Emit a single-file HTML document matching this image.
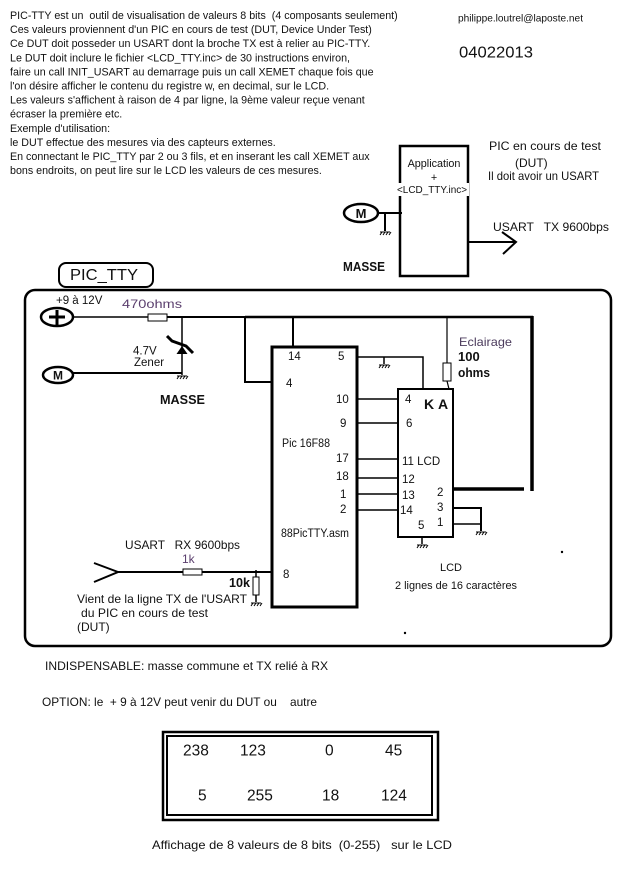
<!DOCTYPE html>
<html><head><meta charset="utf-8"><style>
html,body{margin:0;padding:0;background:#fff;}
svg{display:block;}
text{font-family:"Liberation Sans",Arial,sans-serif;fill:#111;white-space:pre;}
.b{font-weight:bold;}
</style></head><body>
<svg width="628" height="871" viewBox="0 0 628 871" xmlns="http://www.w3.org/2000/svg">
<defs>
<g id="gnd"><path d="M-5 0h10 M-5 3l2-3 M-2 3l2-3 M1 3l2-3 M4 3l2-3" stroke="#000" stroke-width="1" fill="none"/></g>
</defs>
<rect width="628" height="871" fill="#fff"/>

<!-- top text -->
<g font-size="10.7">
<text x="10" y="19">PIC-TTY est un  outil de visualisation de valeurs 8 bits  (4 composants seulement)</text>
<text x="10" y="33.1">Ces valeurs proviennent d'un PIC en cours de test (DUT, Device Under Test)</text>
<text x="10" y="47.2">Ce DUT doit posseder un USART dont la broche TX est à relier au PIC-TTY.</text>
<text x="10" y="61.3">Le DUT doit inclure le fichier &lt;LCD_TTY.inc&gt; de 30 instructions environ,</text>
<text x="10" y="75.4">faire un call INIT_USART au demarrage puis un call XEMET chaque fois que</text>
<text x="10" y="89.5">l'on désire afficher le contenu du registre w, en decimal, sur le LCD.</text>
<text x="10" y="103.6">Les valeurs s'affichent à raison de 4 par ligne, la 9ème valeur reçue venant</text>
<text x="10" y="117.7">écraser la première etc.</text>
<text x="10" y="131.8">Exemple d'utilisation:</text>
<text x="10" y="145.9">le DUT effectue des mesures via des capteurs externes.</text>
<text x="10" y="160">En connectant le PIC_TTY par 2 ou 3 fils, et en inserant les call XEMET aux</text>
<text x="10" y="174.1">bons endroits, on peut lire sur le LCD les valeurs de ces mesures.</text>
</g>

<!-- top right -->
<text x="458" y="21.5" font-size="10.3" textLength="125" lengthAdjust="spacingAndGlyphs">philippe.loutrel@laposte.net</text>
<text x="459" y="57.5" font-size="16" textLength="74" lengthAdjust="spacingAndGlyphs">04022013</text>

<!-- DUT box -->
<rect x="400" y="146" width="68" height="130" fill="none" stroke="#000" stroke-width="2.5"/>
<rect x="397" y="183" width="72" height="13" fill="#fff"/>
<text x="434" y="167" font-size="10.8" text-anchor="middle">Application</text>
<text x="434" y="181" font-size="10.8" text-anchor="middle">+</text>
<text x="397" y="193" font-size="10" textLength="70" lengthAdjust="spacingAndGlyphs">&lt;LCD_TTY.inc&gt;</text>
<text x="489" y="150" font-size="12" textLength="112" lengthAdjust="spacingAndGlyphs">PIC en cours de test</text>
<text x="515" y="167" font-size="12">(DUT)</text>
<text x="488" y="180" font-size="12" textLength="111" lengthAdjust="spacingAndGlyphs">Il doit avoir un USART</text>
<text x="493" y="231" font-size="12" textLength="116" lengthAdjust="spacingAndGlyphs">USART   TX 9600bps</text>
<path d="M468 242H516 M502 232L516 242L503 254" stroke="#000" stroke-width="2" fill="none"/>
<ellipse cx="361" cy="213" rx="17" ry="9" fill="none" stroke="#000" stroke-width="2.5"/>
<text x="361" y="218" font-size="13" class="b" text-anchor="middle">M</text>
<path d="M378 213H402 M385 213V231" stroke="#000" stroke-width="2" fill="none"/>
<use href="#gnd" x="385" y="232"/>
<text x="343" y="271" font-size="12.5" class="b" textLength="42" lengthAdjust="spacingAndGlyphs">MASSE</text>

<!-- main frame -->
<rect x="25" y="290" width="586" height="356" rx="10" fill="none" stroke="#000" stroke-width="2.5"/>
<rect x="59" y="263" width="94" height="24" rx="7" fill="#fff" stroke="#000" stroke-width="2"/>
<text x="70" y="280" font-size="16" textLength="68" lengthAdjust="spacingAndGlyphs">PIC_TTY</text>

<!-- power -->
<ellipse cx="57" cy="317" rx="16" ry="9" fill="#fff" stroke="#000" stroke-width="2.5"/>
<path d="M49 317H65 M57 310V325" stroke="#000" stroke-width="3"/>
<text x="56" y="304" font-size="11.5">+9 à 12V</text>
<text x="122" y="308" font-size="12" fill="#5b3f6e" style="fill:#5b3f6e" textLength="60" lengthAdjust="spacingAndGlyphs">470ohms</text>
<path d="M73 317H148" stroke="#000" stroke-width="1.5"/>
<rect x="148" y="314" width="19" height="7" fill="#fff" stroke="#000" stroke-width="1"/>
<path d="M167 317H245" stroke="#000" stroke-width="2"/>
<path d="M245 317H533" stroke="#000" stroke-width="2.5"/>
<!-- zener -->
<path d="M182 317V375" stroke="#000" stroke-width="1.5"/>
<path d="M182 346L176.5 354H187.5Z" fill="#000"/>
<path d="M167 336L172 341L186 346L193 353" stroke="#000" stroke-width="3" fill="none"/>
<text x="133" y="354.5" font-size="11.5">4.7V</text>
<text x="134" y="366" font-size="11.5">Zener</text>
<!-- ground M -->
<ellipse cx="58" cy="375" rx="15" ry="8" fill="#fff" stroke="#000" stroke-width="2.5"/>
<text x="58" y="379.5" font-size="12" class="b" text-anchor="middle">M</text>
<path d="M73 373H182" stroke="#000" stroke-width="2"/>
<use href="#gnd" x="182" y="376"/>
<text x="160" y="404" font-size="13" class="b" textLength="45" lengthAdjust="spacingAndGlyphs">MASSE</text>

<!-- PIC chip -->
<path d="M245 317V382H272 M293 317V347" stroke="#000" stroke-width="2" fill="none"/>
<rect x="272" y="347" width="85" height="260" fill="none" stroke="#000" stroke-width="3"/>
<g font-size="11.5">
<text x="288" y="360">14</text>
<text x="338" y="360">5</text>
<text x="286" y="387">4</text>
<text x="336" y="403">10</text>
<text x="340" y="427">9</text>
<text x="282" y="447" textLength="48" lengthAdjust="spacingAndGlyphs">Pic 16F88</text>
<text x="336" y="462">17</text>
<text x="336" y="480">18</text>
<text x="340" y="498">1</text>
<text x="340" y="513">2</text>
<text x="281" y="537" textLength="68" lengthAdjust="spacingAndGlyphs">88PicTTY.asm</text>
<text x="283" y="578">8</text>
</g>
<path d="M357 357H423V389 M384 357V364 M357 399H398 M357 423H398 M357 459H398 M357 478H398 M357 494H398 M357 510H398" stroke="#000" stroke-width="1.5" fill="none"/>
<use href="#gnd" x="384" y="365"/>

<!-- LCD -->
<rect x="398" y="389" width="55" height="148" fill="none" stroke="#000" stroke-width="2"/>
<g font-size="11.5">
<text x="405" y="403">4</text>
<text x="406" y="427">6</text>
<text x="402" y="465">11 LCD</text>
<text x="402" y="483">12</text>
<text x="402" y="499">13</text>
<text x="400" y="514">14</text>
<text x="418" y="529">5</text>
<text x="437" y="496">2</text>
<text x="437" y="511">3</text>
<text x="437" y="526">1</text>
</g>
<text x="424" y="409" font-size="14" class="b">K</text>
<text x="438" y="409" font-size="14" class="b">A</text>
<path d="M453 489H524" stroke="#000" stroke-width="3.5"/>
<path d="M532 316V491" stroke="#000" stroke-width="3.5"/>
<path d="M453 508H481V531" stroke="#000" stroke-width="2" fill="none"/>
<path d="M453 524H481" stroke="#000" stroke-width="1.5"/>
<use href="#gnd" x="481" y="532"/>
<path d="M422 537V544" stroke="#000" stroke-width="1.5"/>
<use href="#gnd" x="422" y="545"/>
<!-- backlight -->
<path d="M447 317V363 M447 381L449 389" stroke="#000" stroke-width="1.2" fill="none"/>
<rect x="443" y="363" width="8" height="18" fill="#fff" stroke="#000" stroke-width="1"/>
<text x="459" y="346" font-size="12" style="fill:#4b3b5c" textLength="53" lengthAdjust="spacingAndGlyphs">Eclairage</text>
<text x="458" y="361" font-size="13" class="b">100</text>
<text x="458" y="377" font-size="12.5" class="b" textLength="32" lengthAdjust="spacingAndGlyphs">ohms</text>
<text x="440" y="571" font-size="11">LCD</text>
<text x="395" y="589" font-size="11" textLength="122" lengthAdjust="spacingAndGlyphs">2 lignes de 16 caractères</text>
<circle cx="562" cy="552" r="1.2" fill="#000"/>
<circle cx="405" cy="633" r="1.2" fill="#000"/>

<!-- RX input -->
<text x="125" y="549" font-size="12" textLength="115" lengthAdjust="spacingAndGlyphs">USART   RX 9600bps</text>
<text x="182" y="563" font-size="12" style="fill:#5b3f6e">1k</text>
<path d="M94 563L118 572L94 582" stroke="#000" stroke-width="2" fill="none"/>
<path d="M118 572H183 M202 572H272" stroke="#000" stroke-width="2"/>
<rect x="183" y="569" width="19" height="6" fill="#fff" stroke="#000" stroke-width="1"/>
<path d="M256 570V577 M256 595V602" stroke="#000" stroke-width="1.5"/>
<rect x="253" y="577" width="6" height="18" fill="#fff" stroke="#000" stroke-width="1"/>
<use href="#gnd" x="256" y="603"/>
<text x="229" y="587" font-size="13" class="b" textLength="21" lengthAdjust="spacingAndGlyphs">10k</text>
<text x="77" y="603" font-size="12" textLength="170" lengthAdjust="spacingAndGlyphs">Vient de la ligne TX de l'USART</text>
<text x="81" y="617" font-size="12" textLength="127" lengthAdjust="spacingAndGlyphs">du PIC en cours de test</text>
<text x="77" y="631" font-size="12">(DUT)</text>

<!-- notes -->
<text x="45" y="670" font-size="12" textLength="283" lengthAdjust="spacingAndGlyphs">INDISPENSABLE: masse commune et TX relié à RX</text>
<text x="42" y="706" font-size="12" textLength="275" lengthAdjust="spacingAndGlyphs">OPTION: le  + 9 à 12V peut venir du DUT ou    autre</text>

<!-- LCD display table -->
<rect x="163" y="732" width="275" height="88" fill="none" stroke="#000" stroke-width="2.5"/>
<rect x="167" y="736" width="265" height="79" fill="none" stroke="#000" stroke-width="2"/>
<g font-size="15.5">
<text x="183" y="755.5">238</text>
<text x="240" y="755.5">123</text>
<text x="325" y="755.5">0</text>
<text x="385" y="755.5">45</text>
<text x="198" y="800.5">5</text>
<text x="247" y="800.5">255</text>
<text x="322" y="800.5">18</text>
<text x="381" y="800.5">124</text>
</g>
<text x="152" y="849" font-size="12" textLength="300" lengthAdjust="spacingAndGlyphs">Affichage de 8 valeurs de 8 bits  (0-255)   sur le LCD</text>
</svg>
</body></html>
